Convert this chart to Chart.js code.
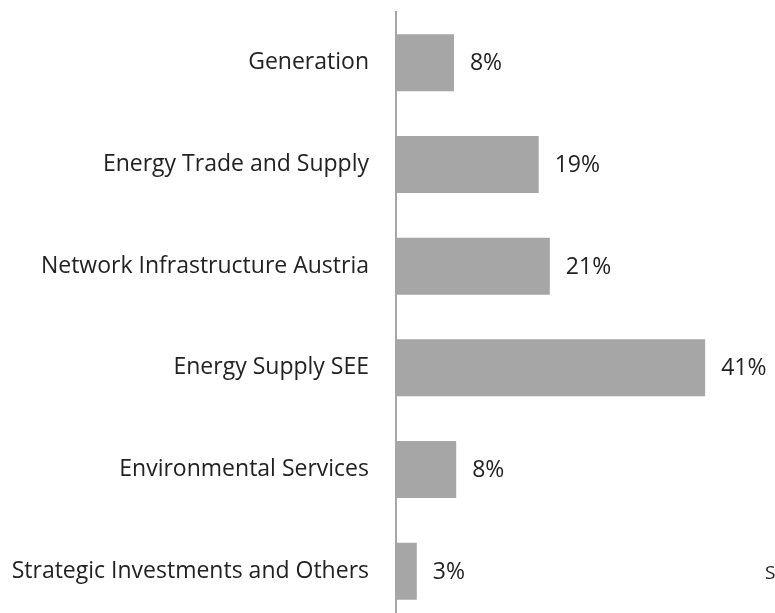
<!DOCTYPE html>
<html>
<head>
<meta charset="utf-8">
<script src="https://cdn.jsdelivr.net/npm/chart.js@4.4.1/dist/chart.umd.min.js"></script>
<style>
  html, body { margin: 0; padding: 0; background: #fff; overflow: hidden; }
  #wrap { position: relative; width: 775px; height: 626px; }
</style>
</head>
<body>
<div id="wrap"><canvas id="segChart" width="775" height="626"></canvas></div>
<script>
// segment shares (%)
var segments = [
    'Generation',
    'Energy Trade and Supply',
    'Network Infrastructure Austria',
    'Energy Supply SEE',
    'Environmental Services',
    'Strategic Investments and Others'
];
var shares = [7.8, 19.2, 20.7, 41.6, 8.1, 2.8];
var shareLabels = ['8%', '19%', '21%', '41%', '8%', '3%'];

var barGrey = '#a6a6a6';
var textCol = '#222222';
var fontFam = '"Open Sans", "Noto Sans", sans-serif';

// value labels right of each bar + the cut off text at the right edge
var valueLabels = {
    id: 'valueLabels',
    afterDatasetsDraw: function (chart) {
        var ctx = chart.ctx;
        var meta = chart.getDatasetMeta(0);
        ctx.save();
        ctx.font = '23px ' + fontFam;
        ctx.fillStyle = textCol;
        ctx.textAlign = 'left';
        ctx.textBaseline = 'middle';
        meta.data.forEach(function (bar, i) {
            ctx.fillText(shareLabels[i], bar.x + 16, bar.y + 1);
        });
        ctx.font = '19px ' + fontFam;
        ctx.textBaseline = 'alphabetic';
        ctx.fillText('S', 765, 579);
        ctx.restore();
    }
};

var ctx = document.getElementById('segChart').getContext('2d');
var chart = new Chart(ctx, {
    type: 'bar',
    data: {
        labels: segments,
        datasets: [{
            data: shares,
            backgroundColor: barGrey,
            borderWidth: 0,
            categoryPercentage: 0.56,
            barPercentage: 1
        }]
    },
    options: {
        indexAxis: 'y',
        responsive: false,
        animation: false,
        maintainAspectRatio: false,
        layout: { padding: { top: 12, right: 0, bottom: 4, left: 0 } },
        plugins: {
            legend: { display: false },
            tooltip: { enabled: false }
        },
        scales: {
            x: {
                display: false,
                min: 0,
                max: 51
            },
            y: {
                afterFit: function (scale) {
                    scale.width = 396;
                    scale.paddingTop = 0;
                    scale.paddingBottom = 0;
                },
                grid: { display: false, drawTicks: false },
                border: { display: true, color: barGrey, width: 2 },
                ticks: {
                    color: textCol,
                    padding: 27,
                    font: { family: fontFam, size: 23 }
                }
            }
        }
    },
    plugins: [valueLabels]
});
</script>
</body>
</html>
